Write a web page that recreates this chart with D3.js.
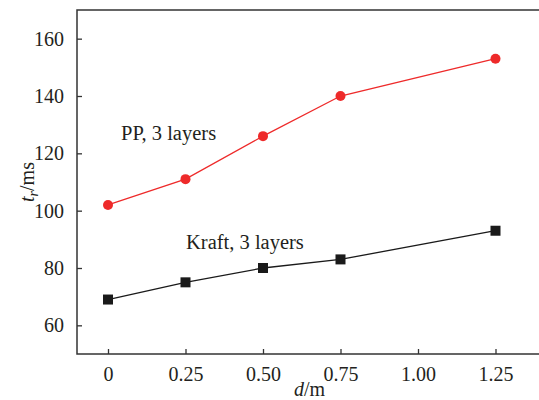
<!DOCTYPE html>
<html>
<head>
<meta charset="utf-8">
<script src="https://cdn.jsdelivr.net/npm/d3@7"></script>
<style>
    body { margin: 0; background: #fff; }
    text { font-family: "Liberation Serif", "Times New Roman", serif; fill: #231f20; }
</style>
</head>
<body>
<svg id="chart"></svg>
<script>
const distances = [0, 0.25, 0.5, 0.75, 1.25];
const ppTimes = [102, 111, 126, 140, 153];
const kraftTimes = [69, 75, 80, 83, 93];
const xTicks = [0, 0.25, 0.5, 0.75, 1.0, 1.25];
const xTickLabels = ["0", "0.25", "0.50", "0.75", "1.00", "1.25"];
const yTicks = [60, 80, 100, 120, 140, 160];

const WIDTH = 539, HEIGHT = 400;
const LEFT = 77, RIGHT = 542, TOP = 10, BOTTOM = 354;

const svg = d3.select("#chart")
    .attr("width", WIDTH)
    .attr("height", HEIGHT);

const x = d3.scaleLinear().domain([-0.1, 1.4]).range([LEFT, RIGHT]);
const y = d3.scaleLinear().domain([50, 170]).range([BOTTOM, TOP]);

// frame
svg.append("rect")
    .attr("x", LEFT)
    .attr("y", TOP)
    .attr("width", RIGHT - LEFT)
    .attr("height", BOTTOM - TOP)
    .attr("fill", "none")
    .attr("stroke", "#333")
    .attr("stroke-width", 1.5);

const xAxis = svg.append("g")
    .attr("transform", `translate(0,${BOTTOM})`)
    .call(d3.axisBottom(x).tickValues(xTicks).tickSizeInner(-5).tickSizeOuter(0)
        .tickPadding(13).tickFormat((d, i) => xTickLabels[i]));

const yAxis = svg.append("g")
    .attr("transform", `translate(${LEFT},0)`)
    .call(d3.axisLeft(y).tickValues(yTicks).tickSizeInner(-5).tickSizeOuter(0)
        .tickPadding(13));

[xAxis, yAxis].forEach(ax => {
    ax.select(".domain").remove();
    ax.selectAll("line").attr("stroke", "#333").attr("stroke-width", 1.3);
    ax.selectAll("text")
        .style("font-family", "'Liberation Serif', serif")
        .style("font-size", "20px")
        .attr("fill", "#231f20");
});

// axis titles
const xTitle = svg.append("text")
    .attr("x", (LEFT + RIGHT) / 2)
    .attr("y", 396)
    .attr("text-anchor", "middle")
    .style("font-size", "20px");
xTitle.append("tspan").attr("font-style", "italic").text("d");
xTitle.append("tspan").text("/m");

const yTitle = svg.append("text")
    .attr("transform", `translate(34,${(TOP + BOTTOM) / 2}) rotate(-90)`)
    .attr("text-anchor", "middle")
    .style("font-size", "20px");
yTitle.append("tspan").attr("font-style", "italic").text("t");
yTitle.append("tspan").attr("font-style", "italic").attr("font-size", "14px").attr("dy", 4).text("r");
yTitle.append("tspan").attr("dy", -4).text("/ms");

const line = d3.line()
    .x(d => x(d[0]))
    .y(d => y(d[1]));

const ppData = d3.zip(distances, ppTimes);
const kraftData = d3.zip(distances, kraftTimes);

svg.append("path")
    .datum(ppData)
    .attr("d", line)
    .attr("fill", "none")
    .attr("stroke", "#ee2a2a")
    .attr("stroke-width", 1.3);

svg.selectAll("circle.pp")
    .data(ppData)
    .enter()
    .append("circle")
    .attr("class", "pp")
    .attr("cx", d => x(d[0]))
    .attr("cy", d => y(d[1]))
    .attr("r", 5)
    .attr("fill", "#ee2a2a");

svg.append("path")
    .datum(kraftData)
    .attr("d", line)
    .attr("fill", "none")
    .attr("stroke", "#1a1a1a")
    .attr("stroke-width", 1.3);

svg.selectAll("rect.kraft")
    .data(kraftData)
    .enter()
    .append("rect")
    .attr("class", "kraft")
    .attr("x", d => x(d[0]) - 5)
    .attr("y", d => y(d[1]) - 5)
    .attr("width", 10)
    .attr("height", 10)
    .attr("fill", "#1a1a1a");

// series labels
svg.append("text")
    .attr("x", 121)
    .attr("y", 140)
    .style("font-size", "20.5px")
    .text("PP, 3 layers");

svg.append("text")
    .attr("x", 186)
    .attr("y", 249)
    .style("font-size", "20.5px")
    .text("Kraft, 3 layers");
</script>
</body>
</html>
